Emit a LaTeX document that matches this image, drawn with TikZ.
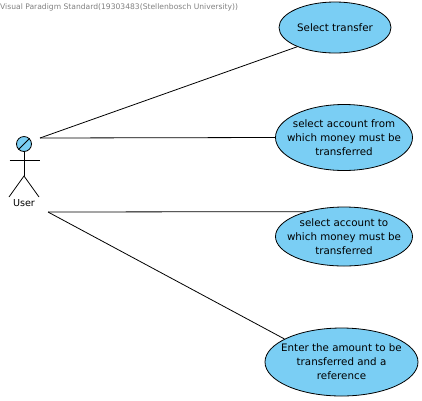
\documentclass[tikz,border=0pt]{standalone}
\usepackage{fontspec}
\setmainfont{DejaVu Sans}
\usepackage{xcolor}
\usetikzlibrary{shapes.geometric}
\definecolor{usecaseblue}{HTML}{7ACEF4}
\tikzset{
    usecase/.style={ellipse, draw=black, fill=usecaseblue, line width=0.8pt, inner sep=-12pt, align=center, font=\fontsize{10.3}{14}\selectfont},
    assoc/.style={draw=black, line width=0.8pt}
}
\begin{document}
\begin{tikzpicture}[x=1pt,y=-1pt]
        \useasboundingbox (0,0) rectangle (422,400);

        % 水印
        \node[anchor=west, inner sep=0pt, text=gray, font=\fontsize{7.6}{9}\selectfont] (mark) at (0,7) {Visual Paradigm Standard(19303483(Stellenbosch University))};

        % 用例
        \node[usecase, minimum width=112pt, minimum height=51pt] (select) at (335,27.5) {Select transfer};
        \node[usecase, minimum width=137pt, minimum height=66pt] (from) at (344,137.5) {select account from\\which money must be\\transferred};
        \node[usecase, minimum width=137pt, minimum height=59pt] (to) at (344,236.5) {select account to\\which money must be\\transferred};
        \node[usecase, minimum width=153pt, minimum height=68pt] (amount) at (341.5,362) {Enter the amount to be\\transferred and a\\reference};

        % 参与者
        \node[circle, draw=black, fill=usecaseblue, line width=0.8pt, minimum size=15pt, inner sep=0pt] (head) at (24,144) {};
        \draw[line width=0.8pt] (head.225) -- (head.45);
        \coordinate (hip) at (24,176);
        \draw[line width=0.8pt] (head.south) -- (hip);
        \draw[line width=0.8pt] (9.5,160) -- (39.5,160);
        \draw[line width=0.8pt] (9,197) -- (hip) -- (39,197);
        \node[font=\fontsize{9.6}{12}\selectfont, inner sep=0pt] (user) at (24,203.5) {User};

        % 连线
        \coordinate (upper) at (40,138);
        \coordinate (lower) at (48,212);
        \draw[assoc] (upper) -- (select.207);
        \draw[assoc] (upper) -- (from.west);
        \draw[assoc] (lower) -- (to.147);
        \draw[assoc] (lower) -- (amount.158);
\end{tikzpicture}
\end{document}
